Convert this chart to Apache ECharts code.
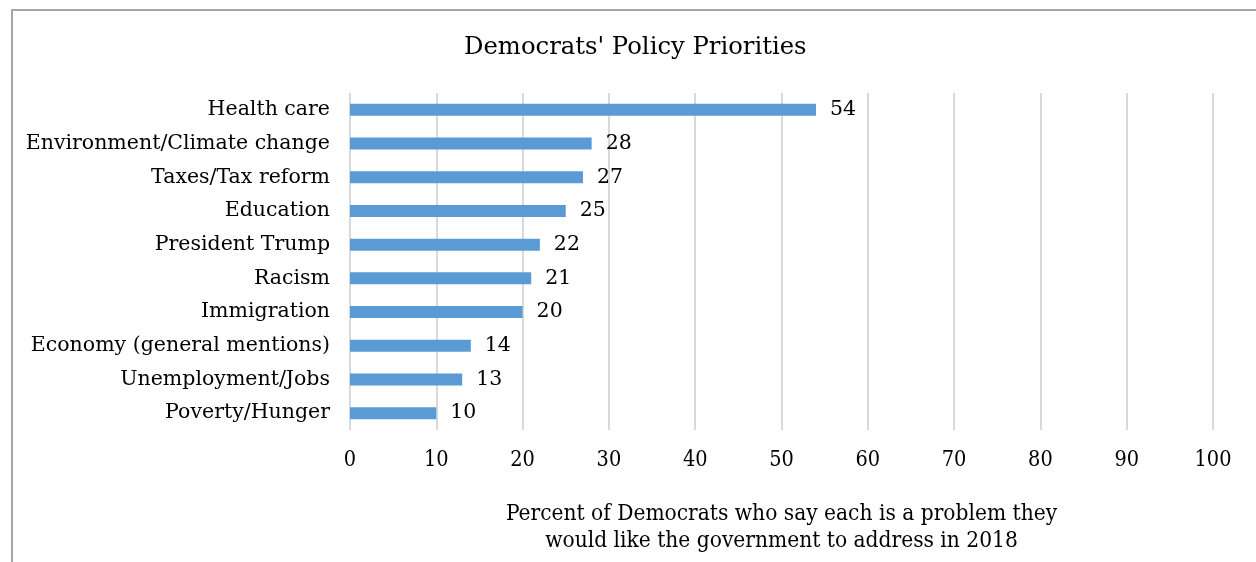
<!DOCTYPE html>
<html>
<head>
<meta charset="utf-8">
<script src="https://cdn.jsdelivr.net/npm/echarts@6/dist/echarts.min.js"></script>
<style>
  html, body { margin: 0; padding: 0; background: #fff; overflow: hidden; width: 1256px; height: 562px; }
  #wrap { position: relative; width: 1256px; height: 562px; overflow: hidden; }
  #frame { position: absolute; left: 11px; top: 9px; width: 1260px; height: 570px; border: 2px solid #a6a6a6; box-sizing: border-box; }
  #chart { position: absolute; left: 0; top: 0; width: 1256px; height: 562px; }
</style>
</head>
<body>
<div id="wrap">
  <div id="frame"></div>
  <div id="chart"></div>
</div>
<script>
const categories = [
  'Health care',
  'Environment/Climate change',
  'Taxes/Tax reform',
  'Education',
  'President Trump',
  'Racism',
  'Immigration',
  'Economy (general mentions)',
  'Unemployment/Jobs',
  'Poverty/Hunger'
];
const values = [54, 28, 27, 25, 22, 21, 20, 14, 13, 10];
const xTicks = [0, 10, 20, 30, 40, 50, 60, 70, 80, 90, 100];

const SERIF = '"DejaVu Serif", serif';
const SERIF_NARROW = '"DejaVu Serif Condensed", "DejaVu Serif", serif';

const chart = echarts.init(document.getElementById('chart'), null, { renderer: 'canvas' });
chart.setOption({
  animation: false,
  textStyle: { fontFamily: SERIF, color: '#000' },
  title: {
    text: "Democrats' Policy Priorities",
    left: 459,
    top: 31,
    textStyle: { fontFamily: SERIF, fontSize: 24.3, fontWeight: 'normal', color: '#000' }
  },
  grid: {
    left: 350, right: 43, top: 93, bottom: 132,
    containLabel: false,
    outerBoundsMode: 'none'
  },
  xAxis: {
    type: 'value',
    min: xTicks[0],
    max: xTicks[xTicks.length - 1],
    interval: 10,
    axisLine: { show: false },
    axisTick: { show: false },
    axisLabel: { fontFamily: SERIF_NARROW, fontSize: 21.5, color: '#000', margin: 19 },
    splitLine: { show: true, lineStyle: { color: '#d9d9d9', width: 2 } },
    name: 'Percent of Democrats who say each is a problem they\nwould like the government to address in 2018',
    nameLocation: 'middle',
    nameGap: 71,
    nameTextStyle: { fontFamily: SERIF_NARROW, fontSize: 22.5, color: '#000', lineHeight: 27 }
  },
  yAxis: {
    type: 'category',
    data: categories,
    inverse: true,
    axisLine: { show: false },
    axisTick: { show: false },
    axisLabel: { fontFamily: SERIF, fontSize: 20.5, color: '#000', margin: 20 }
  },
  series: [{
    type: 'bar',
    data: values,
    barWidth: 12,
    itemStyle: { color: '#5b9bd5' },
    label: {
      show: true,
      position: 'right',
      distance: 14,
      fontFamily: SERIF,
      fontSize: 20.5,
      color: '#000'
    }
  }]
});
</script>
</body>
</html>
